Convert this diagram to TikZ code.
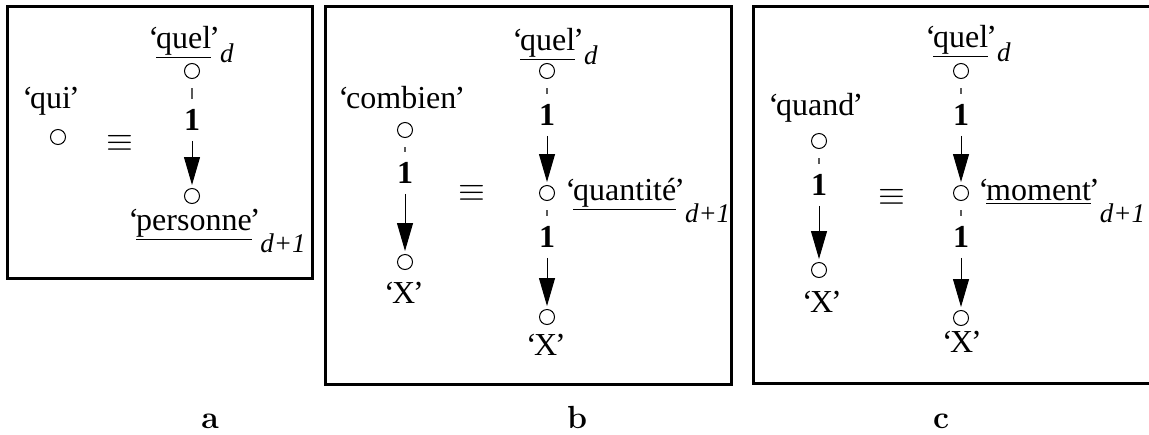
\documentclass[tikz,border=0pt]{standalone}
\usepackage{fontspec}
\newfontfamily\lexfont{Liberation Serif}
\usetikzlibrary{arrows.meta}

\newcommand{\oq}{‘\kern-0.09em}
\newcommand{\cq}{\kern-0.06em’}
\newcommand{\lex}[1]{\oq\underline{#1}\cq}
\newcommand{\idx}[2][0.45em]{\raisebox{-#1}{\fontsize{13.5}{15}\selectfont\itshape #2}}

\begin{document}
\begin{tikzpicture}[x=0.5pt, y=-0.5pt, >={Triangle[length=14pt,width=8pt]},
  every node/.style={font=\lexfont\fontsize{16}{19}\selectfont},
  pt/.style={draw, circle, line width=0.5pt, minimum size=7.5pt, inner sep=0pt},
  txt/.style={anchor=base west, inner sep=0pt},
  sym/.style={anchor=base, inner sep=0pt},
  num/.style={font=\lexfont\fontsize{16}{19}\selectfont\bfseries, inner sep=5pt},
  eqv/.style={font=\fontsize{16}{19}\selectfont},
  stub/.style={draw=black!65, line width=0.6pt, shorten <=4.5pt},
  arc/.style={->, line width=0.5pt, shorten >=1.5pt},
  panel/.style={line width=1.5pt},
  caption/.style={font=\fontsize{16}{19}\selectfont\bfseries, anchor=base}]
\useasboundingbox (0,0) rectangle (1149,434);

% panels
\draw[panel] (7,6) rectangle (312,278);
\draw[panel] (325,6) rectangle (731,384);
\draw[panel] (1149,6) -- (753,6) -- (753,383) -- (1149,383);

% (a) qui
\node[pt] (qui) at (58,137) {};
\node[txt] (quiLab) at (22,108) {\oq qui\cq};
\node[eqv] (eqA) at (120,143) {$\equiv$};
\node[pt] (quelA) at (192,71) {};
\node[txt] (quelALab) at (148,48) {\lex{quel}\idx{d}};
\node[num] (oneA) at (192,120) {1};
\node[pt] (persA) at (192,196) {};
\node[txt] (persALab) at (128,230) {\lex{personne}\idx[0.7em]{d+1}};
\draw[stub] (quelA) -- (oneA);
\draw[arc] (oneA) -- (persA);

% (b) combien
\node[pt] (comb) at (405,130) {};
\node[txt] (combLab) at (338,108) {\oq combien\cq};
\node[num] (oneB) at (405,173) {1};
\node[pt] (xB) at (405,262) {};
\node[sym] (xBLab) at (404,303) {\oq X\cq};
\draw[stub] (comb) -- (oneB);
\draw[arc] (oneB) -- (xB);
\node[eqv] (eqB) at (472,193) {$\equiv$};
\node[pt] (quelB) at (547,71) {};
\node[txt] (quelBLab) at (512,50) {\lex{quel}\idx{d}};
\node[num] (oneB1) at (547,115) {1};
\node[pt] (quant) at (547,193) {};
\node[txt] (quantLab) at (565,200) {\lex{quantité}\idx[0.7em]{d+1}};
\node[num] (oneB2) at (547,237) {1};
\node[pt] (xB2) at (547,317) {};
\node[sym] (xB2Lab) at (546,355) {\oq X\cq};
\draw[stub] (quelB) -- (oneB1);
\draw[arc] (oneB1) -- (quant);
\draw[stub] (quant) -- (oneB2);
\draw[arc] (oneB2) -- (xB2);

% (c) quand
\node[pt] (quand) at (819,141) {};
\node[txt] (quandLab) at (768,115) {\oq quand\cq};
\node[num] (oneC) at (819,185) {1};
\node[pt] (xC) at (819,270) {};
\node[sym] (xCLab) at (822,312) {\oq X\cq};
\draw[stub] (quand) -- (oneC);
\draw[arc] (oneC) -- (xC);
\node[eqv] (eqC) at (892,197) {$\equiv$};
\node[pt] (quelC) at (961,71) {};
\node[txt] (quelCLab) at (925,47) {\lex{quel}\idx{d}};
\node[num] (oneC1) at (961,115) {1};
\node[pt] (mom) at (961,193) {};
\node[txt] (momLab) at (978,200) {\lex{moment}\idx[0.7em]{d+1}};
\node[num] (oneC2) at (961,237) {1};
\node[pt] (xC2) at (961,318) {};
\node[sym] (xC2Lab) at (962,352) {\oq X\cq};
\draw[stub] (quelC) -- (oneC1);
\draw[arc] (oneC1) -- (mom);
\draw[stub] (mom) -- (oneC2);
\draw[arc] (oneC2) -- (xC2);

% captions
\node[caption] (capA) at (210,428) {a};
\node[caption] (capB) at (577,428) {b};
\node[caption] (capC) at (941,428) {c};
\end{tikzpicture}
\end{document}
